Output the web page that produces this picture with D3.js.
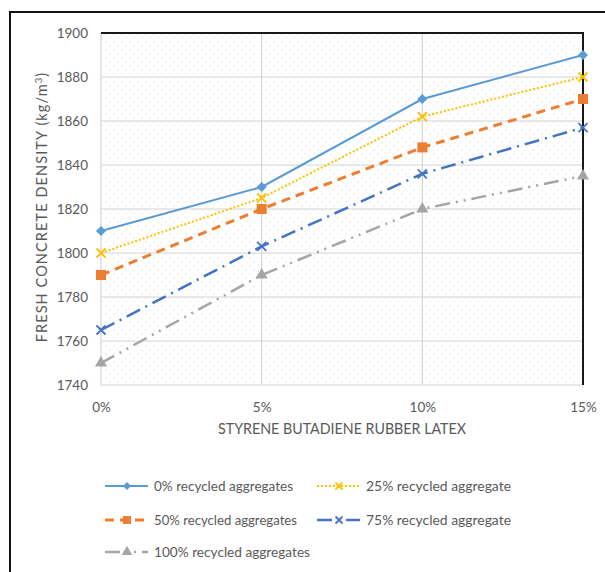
<!DOCTYPE html>
<html>
<head>
<meta charset="utf-8">
<script src="https://cdn.jsdelivr.net/npm/d3@7"></script>
<style>
  body { margin: 0; background: #fff; }
  svg { display: block; font-family: Lato, "Open Sans", sans-serif; }
</style>
</head>
<body>
<svg id="chart" width="605" height="572"></svg>
<script>
// Fresh concrete density vs. SBR latex content
const categories = ["0%", "5%", "10%", "15%"];
const seriesNames = [
  "0% recycled aggregates",
  "25% recycled aggregate",
  "50% recycled aggregates",
  "75% recycled aggregate",
  "100% recycled aggregates"
];
const ra0   = [1810, 1830, 1870, 1890];
const ra25  = [1800, 1825, 1862, 1880];
const ra50  = [1790, 1820, 1848, 1870];
const ra75  = [1765, 1803, 1836, 1857];
const ra100 = [1750, 1790, 1820, 1835];
const yTicks = [1740, 1760, 1780, 1800, 1820, 1840, 1860, 1880, 1900];

const styles = [
  { color: "#5B9BD5", dash: null, width: 2, marker: "diamond" },
  { color: "#FFC000", dash: "2,2", width: 2, marker: "x" },
  { color: "#ED7D31", dash: "9,6", width: 3, marker: "square" },
  { color: "#4472C4", dash: "15,6,2,6", width: 2.5, marker: "x" },
  { color: "#A5A5A5", dash: "15,6,2,6,2,6", width: 2.5, marker: "triangle" }
];
const seriesValues = [ra0, ra25, ra50, ra75, ra100];

const svg = d3.select("#chart");
const M = { left: 101, right: 583, top: 33, bottom: 385 };

// outer frame
svg.append("rect").attr("x", 10).attr("y", 12).attr("width", 640).attr("height", 620)
  .attr("fill", "#fff").attr("stroke", "#111").attr("stroke-width", 2);

// dotted background pattern of the plot area
const defs = svg.append("defs");
const pat = defs.append("pattern").attr("id", "dots").attr("patternUnits", "userSpaceOnUse")
  .attr("width", 8).attr("height", 8);
pat.append("rect").attr("width", 8).attr("height", 8).attr("fill", "#fff");
pat.append("circle").attr("cx", 2).attr("cy", 2).attr("r", 0.8).attr("fill", "#e6e6e6");
pat.append("circle").attr("cx", 6).attr("cy", 6).attr("r", 0.8).attr("fill", "#eeeeee");

const x = d3.scalePoint().domain(categories).range([M.left, M.right]);
const y = d3.scaleLinear().domain([1740, 1900]).range([M.bottom, M.top]);

svg.append("rect").attr("x", M.left).attr("y", M.top)
  .attr("width", M.right - M.left).attr("height", M.bottom - M.top)
  .attr("fill", "url(#dots)");

// gridlines
const grid = svg.append("g");
grid.selectAll("line.h").data(yTicks).join("line")
  .attr("x1", M.left).attr("x2", M.right)
  .attr("y1", d => y(d)).attr("y2", d => y(d))
  .attr("stroke", "#d4d4d4").attr("stroke-width", 1.2);
grid.selectAll("line.v").data(categories.slice(0, 3)).join("line")
  .attr("x1", d => x(d)).attr("x2", d => x(d))
  .attr("y1", M.top).attr("y2", M.bottom)
  .attr("stroke", "#d4d4d4").attr("stroke-width", 1.2);

// dark top and right border of the plot area
svg.append("path")
  .attr("d", `M${M.left},${M.top}H${M.right}V${M.bottom}`)
  .attr("fill", "none").attr("stroke", "#1a1a1a").attr("stroke-width", 2);

// axes labels
const yAxis = d3.axisLeft(y).tickValues(yTicks).tickFormat(d3.format("d"))
  .tickSize(0).tickPadding(13);
svg.append("g").attr("transform", `translate(${M.left},0)`).call(yAxis)
  .call(g => g.select(".domain").remove())
  .selectAll("text").attr("font-size", 13.5).attr("fill", "#595959")
  .attr("font-family", "Lato, sans-serif");

const xAxis = d3.axisBottom(x).tickSize(0).tickPadding(17);
svg.append("g").attr("transform", `translate(0,${M.bottom})`).call(xAxis)
  .call(g => g.select(".domain").remove())
  .selectAll("text").attr("font-size", 13.5).attr("fill", "#595959")
  .attr("font-family", "Lato, sans-serif");

svg.append("text").attr("x", 342).attr("y", 434).attr("text-anchor", "middle")
  .attr("font-size", 14.5).attr("fill", "#595959")
  .attr("textLength", 248).attr("lengthAdjust", "spacingAndGlyphs")
  .text("STYRENE BUTADIENE RUBBER LATEX");

const yTitle = svg.append("text").attr("transform", "translate(47,207) rotate(-90)")
  .attr("text-anchor", "middle").attr("font-size", 14.5).attr("fill", "#595959")
  .attr("letter-spacing", 1.1);
yTitle.append("tspan").text("FRESH CONCRETE DENSITY (kg/m");
yTitle.append("tspan").attr("baseline-shift", "super").attr("font-size", 9.5).text("3");
yTitle.append("tspan").text(")");

function drawMarker(g, type, cx, cy, color, s) {
  if (type === "diamond") {
    const r = s / 2 + 0.5;
    g.append("path").attr("d", `M${cx},${cy - r}L${cx + r},${cy}L${cx},${cy + r}L${cx - r},${cy}Z`)
      .attr("fill", color);
  } else if (type === "square") {
    g.append("rect").attr("x", cx - s / 2 - 0.5).attr("y", cy - s / 2 - 0.5)
      .attr("width", s + 1).attr("height", s + 1).attr("fill", color);
  } else if (type === "triangle") {
    g.append("path").attr("d", d3.symbol(d3.symbolTriangle, s * 7)())
      .attr("transform", `translate(${cx},${cy})`).attr("fill", color);
  } else {
    const r = s / 2;
    g.append("path").attr("d", `M${cx - r},${cy - r}L${cx + r},${cy + r}M${cx - r},${cy + r}L${cx + r},${cy - r}`)
      .attr("stroke", color).attr("stroke-width", 1.8).attr("fill", "none");
  }
}

const line = d3.line().x((d, i) => x(categories[i])).y(d => y(d));
const plot = svg.append("g");
seriesValues.forEach((vals, k) => {
  const st = styles[k];
  plot.append("path").datum(vals).attr("d", line)
    .attr("fill", "none").attr("stroke", st.color).attr("stroke-width", st.width)
    .attr("stroke-dasharray", st.dash);
});
seriesValues.forEach((vals, k) => {
  const st = styles[k];
  vals.forEach((v, i) => drawMarker(plot, st.marker, x(categories[i]), y(v), st.color, 9));
});

// legend
const legendPos = [
  { x: 105, y: 486 }, { x: 317, y: 486 },
  { x: 105, y: 520 }, { x: 317, y: 520 },
  { x: 105, y: 552 }
];
const legendTextLen = [139, 145, 143, 145, 156];
const leg = svg.append("g");
seriesNames.forEach((name, k) => {
  const st = styles[k];
  const p = legendPos[k];
  leg.append("line").attr("x1", p.x).attr("x2", p.x + 43).attr("y1", p.y).attr("y2", p.y)
    .attr("stroke", st.color).attr("stroke-width", st.width)
    .attr("stroke-dasharray", st.dash);
  drawMarker(leg, st.marker, p.x + 22, p.y, st.color, 7);
  leg.append("text").attr("x", p.x + 49).attr("y", p.y + 5)
    .attr("font-size", 14).attr("fill", "#595959")
    .attr("textLength", legendTextLen[k]).attr("lengthAdjust", "spacingAndGlyphs")
    .text(name);
});
</script>
</body>
</html>
